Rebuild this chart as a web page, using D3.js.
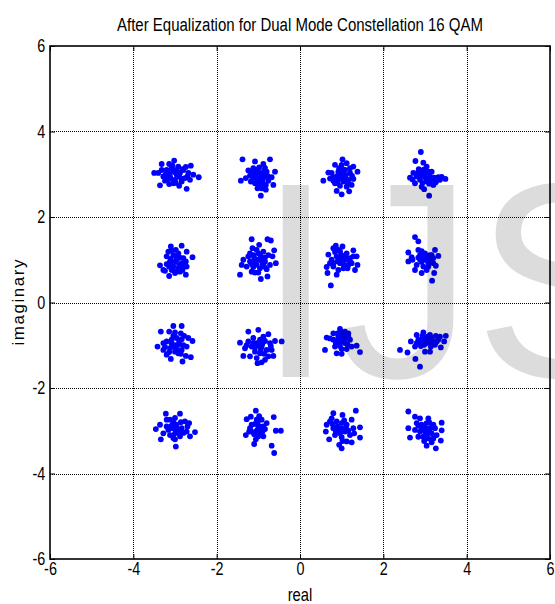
<!DOCTYPE html>
<html><head><meta charset="utf-8">
<script src="https://cdn.jsdelivr.net/npm/d3@7"></script>
<style>body{margin:0;background:#fff}</style>
</head><body>
<svg id="c" width="555" height="604"></svg>
<script>
const xTicks=[-6,-4,-2,0,2,4,6];
const yTicks=[-6,-4,-2,0,2,4,6];
const titleText="After Equalization for Dual Mode Constellation 16 QAM";
const xLabel="real", yLabel="imaginary", watermark="IJS";

// received symbols, one array per constellation point (real, imaginary)
const s_m3_p3=[[-3.50,3.03],[-3.32,3.24],[-3.14,3.24],[-3.02,3.32],[-2.62,3.20],[-2.43,2.93],[-2.72,2.66],[-2.90,2.73],[-3.36,2.74],[-3.14,2.77],[-3.04,2.79],[-3.28,2.95],[-3.40,3.03],[-3.20,3.10],[-3.08,3.14],[-2.92,3.18],[-2.80,3.10],[-2.68,3.03],[-2.56,2.99],[-2.76,2.91],[-2.96,2.99],[-3.04,3.06],[-3.12,2.95],[-3.24,2.85],[-2.84,2.83],[-2.64,2.87],[-3.00,2.87],[-3.16,3.03],[-2.88,3.03],[-3.32,3.10],[-2.74,3.17],[-2.96,3.10],[-3.10,2.90],[-2.90,2.95],[-3.00,3.05],[-2.85,2.90],[-3.18,2.88],[-2.70,2.95],[-3.06,3.20],[-2.98,2.80],[-3.22,3.00],[-2.82,3.12]];
const s_m1_p3=[[-1.38,3.35],[-1.08,3.30],[-0.72,3.35],[-0.88,3.24],[-1.24,3.09],[-0.60,3.06],[-1.42,2.85],[-1.30,2.91],[-0.68,2.93],[-0.64,2.75],[-0.82,2.64],[-0.94,2.50],[-1.02,2.67],[-1.16,3.03],[-1.04,3.10],[-0.96,3.03],[-0.80,3.06],[-1.12,2.91],[-1.00,2.87],[-0.88,2.91],[-0.76,2.85],[-0.92,2.79],[-1.08,2.79],[-1.20,2.97],[-0.98,3.16],[-1.12,3.14],[-0.84,3.15],[-1.18,2.83],[-0.82,2.75],[-0.92,2.67],[-1.06,2.98],[-0.90,2.98],[-1.02,2.85],[-0.86,3.08],[-1.10,3.05],[-0.95,2.92],[-1.14,2.96],[-0.78,2.96],[-1.00,2.75],[-0.90,2.82]];
const s_m3_p1=[[-3.10,1.31],[-2.84,1.33],[-2.58,1.06],[-2.72,1.19],[-3.36,0.87],[-3.28,0.76],[-3.14,0.62],[-3.00,0.69],[-2.74,0.65],[-2.72,0.84],[-3.20,1.08],[-3.04,1.11],[-2.92,1.15],[-2.80,1.04],[-3.12,0.96],[-2.96,1.00],[-2.84,0.92],[-3.04,0.84],[-3.20,0.90],[-2.92,0.80],[-2.82,0.76],[-3.24,0.74],[-3.08,0.76],[-2.74,0.96],[-2.98,1.23],[-3.16,1.19],[-2.88,0.72],[-3.00,0.95],[-2.90,0.88],[-3.10,1.02],[-2.88,1.05],[-3.06,0.90],[-2.96,1.08],[-3.14,0.84],[-2.80,0.84],[-2.98,0.72],[-3.08,1.22]];
const s_m1_p1=[[-1.16,1.48],[-0.78,1.48],[-0.70,1.45],[-0.98,1.35],[-0.62,1.22],[-1.14,1.27],[-1.36,1.00],[-1.40,0.88],[-1.44,0.65],[-1.08,0.70],[-0.94,0.55],[-0.78,0.61],[-0.58,0.92],[-0.66,1.08],[-1.24,1.08],[-1.12,1.11],[-1.00,1.15],[-0.88,1.19],[-0.76,1.11],[-1.20,0.96],[-1.08,0.96],[-0.96,1.00],[-0.84,0.96],[-0.72,0.88],[-1.28,0.84],[-1.12,0.83],[-0.96,0.80],[-0.80,0.78],[-1.04,1.23],[-0.88,1.00],[-1.16,0.72],[-1.00,1.00],[-0.90,0.90],[-1.10,1.05],[-0.94,1.08],[-1.04,0.88],[-0.84,1.05],[-1.16,0.90],[-0.86,0.84],[-1.20,1.15],[-1.00,0.70]];
const s_p1_p3=[[1.02,3.35],[0.84,3.22],[0.56,2.85],[0.68,3.04],[1.38,3.06],[1.28,3.18],[1.18,2.60],[1.00,2.53],[0.88,2.61],[0.80,2.93],[0.92,3.06],[1.08,3.10],[1.20,3.03],[1.28,2.89],[1.24,2.75],[1.12,2.71],[0.96,2.73],[0.84,2.79],[0.72,2.90],[0.96,2.89],[1.08,2.93],[1.04,2.83],[1.16,2.87],[1.00,3.22],[1.12,3.26],[0.88,2.87],[1.20,3.14],[0.76,3.03],[1.00,3.00],[0.90,2.96],[1.10,2.98],[1.04,3.10],[0.94,3.14],[1.15,2.80],[0.90,2.80],[1.02,2.92],[0.80,2.85],[1.25,2.96]];
const s_p3_p3=[[2.90,3.52],[2.77,3.31],[2.96,3.27],[3.04,3.18],[3.16,3.06],[2.64,2.92],[2.76,2.79],[2.98,2.65],[3.10,2.50],[3.20,2.75],[3.32,2.93],[3.49,2.89],[3.26,2.81],[2.84,3.06],[2.80,2.95],[2.92,3.03],[3.00,2.93],[3.12,2.95],[2.88,2.87],[3.04,2.83],[2.92,2.71],[3.16,2.87],[3.08,3.06],[2.72,3.03],[3.36,2.87],[2.96,3.10],[3.00,3.00],[2.88,2.96],[3.08,2.90],[2.94,2.80],[3.22,2.92],[2.85,3.12],[3.10,2.78],[3.00,3.12],[2.70,2.88],[3.40,2.94]];
const s_p1_p1=[[0.74,0.40],[0.86,1.33],[1.02,1.31],[1.28,1.22],[1.36,1.08],[1.38,0.88],[1.32,0.76],[0.64,0.83],[0.66,0.69],[0.88,0.65],[0.68,1.12],[0.80,1.27],[0.92,1.23],[0.76,1.00],[0.88,1.08],[1.00,1.11],[1.12,1.15],[1.20,1.04],[1.08,1.00],[0.96,0.92],[0.80,0.84],[1.16,0.88],[1.24,0.92],[1.04,0.80],[0.92,0.76],[0.72,0.92],[1.28,1.08],[1.00,1.00],[0.90,0.96],[1.10,1.06],[0.96,1.20],[1.06,0.88],[0.84,1.18],[1.20,0.96],[0.80,0.92],[1.14,0.80],[0.98,1.04]];
const s_p3_p1=[[2.76,1.53],[2.84,1.43],[2.84,1.23],[2.60,1.17],[2.60,0.96],[2.68,1.06],[2.76,0.76],[2.92,0.69],[3.22,0.69],[3.17,0.51],[3.26,0.86],[3.32,1.09],[3.24,1.23],[2.88,1.11],[3.00,1.15],[3.12,1.11],[3.20,1.04],[2.88,1.00],[3.00,1.00],[3.12,0.96],[2.80,0.88],[2.96,0.84],[3.08,0.84],[3.16,1.11],[3.04,1.07],[3.00,1.05],[2.92,0.95],[3.08,0.92],[2.96,1.10],[3.10,1.02],[2.84,1.05],[3.20,0.92],[2.70,1.00],[3.04,0.76],[2.92,1.20]];
const s_m3_m1=[[-3.34,-0.68],[-3.04,-0.55],[-2.84,-0.55],[-2.86,-0.72],[-3.14,-0.68],[-3.42,-1.03],[-2.58,-0.90],[-3.28,-1.11],[-3.20,-1.22],[-3.10,-1.32],[-2.82,-1.38],[-2.62,-1.28],[-2.74,-1.25],[-3.20,-0.91],[-3.08,-0.87],[-2.96,-0.83],[-2.84,-0.86],[-2.72,-1.03],[-3.04,-1.03],[-2.92,-0.99],[-2.84,-1.11],[-3.00,-1.15],[-3.12,-1.07],[-2.92,-1.19],[-3.28,-0.95],[-2.68,-0.83],[-3.04,-0.78],[-3.00,-1.00],[-2.90,-0.92],[-3.08,-0.96],[-2.96,-1.10],[-2.80,-1.00],[-3.14,-1.16],[-2.86,-1.20],[-3.24,-1.04],[-3.00,-0.70],[-2.78,-0.78]];
const s_m1_m1=[[-1.44,-0.94],[-1.24,-0.68],[-1.00,-0.64],[-0.76,-0.74],[-0.60,-0.90],[-0.44,-0.91],[-0.64,-1.25],[-0.84,-1.34],[-1.02,-1.42],[-0.92,-1.40],[-1.20,-1.26],[-1.36,-1.25],[-1.32,-1.07],[-1.12,-0.83],[-0.88,-0.80],[-0.72,-0.95],[-1.04,-0.95],[-1.16,-1.03],[-0.92,-1.03],[-0.80,-1.11],[-0.96,-1.19],[-1.08,-1.15],[-0.68,-1.11],[-1.24,-0.91],[-0.96,-0.87],[-0.76,-1.26],[-1.00,-1.00],[-0.90,-0.96],[-1.08,-1.06],[-0.94,-1.10],[-0.84,-0.90],[-1.12,-0.95],[-0.86,-1.20],[-1.04,-1.30],[-0.70,-1.02],[-1.28,-1.00]];
const s_m3_m3=[[-2.88,-2.60],[-3.22,-2.60],[-3.46,-2.96],[-3.36,-2.86],[-3.34,-3.20],[-2.98,-3.37],[-2.52,-3.03],[-2.66,-2.82],[-3.12,-2.74],[-3.00,-2.70],[-3.20,-2.90],[-3.08,-2.94],[-2.96,-2.86],[-2.84,-2.94],[-2.72,-3.02],[-3.00,-3.06],[-3.12,-3.10],[-2.88,-3.13],[-2.64,-3.13],[-3.28,-3.06],[-2.76,-2.78],[-3.04,-3.17],[-3.20,-2.74],[-3.00,-2.95],[-2.92,-2.98],[-3.08,-2.88],[-2.90,-3.05],[-3.04,-2.80],[-2.80,-3.05],[-3.16,-2.98],[-2.86,-2.80],[-3.00,-3.20],[-2.70,-2.90]];
const s_m1_m3=[[-1.06,-2.53],[-1.18,-2.67],[-1.28,-2.73],[-0.63,-2.68],[-1.30,-3.10],[-1.10,-3.31],[-0.96,-2.90],[-0.58,-3.00],[-0.46,-3.00],[-0.68,-3.35],[-0.62,-3.52],[-0.88,-3.13],[-1.04,-2.74],[-0.92,-2.74],[-1.16,-2.86],[-1.04,-3.00],[-1.16,-3.02],[-1.00,-3.13],[-0.88,-2.90],[-0.80,-2.82],[-1.20,-2.94],[-0.96,-3.06],[-1.00,-2.90],[-1.08,-2.84],[-0.96,-2.98],[-1.10,-3.08],[-0.90,-3.02],[-1.02,-2.80],[-1.22,-3.02],[-0.84,-2.96],[-1.06,-3.20],[-0.98,-2.66]];
const s_p1_m1=[[0.64,-0.82],[0.60,-1.11],[0.80,-0.72],[0.96,-0.62],[1.16,-0.72],[1.36,-1.01],[1.44,-1.16],[1.12,-1.09],[0.88,-1.19],[1.00,-1.20],[0.84,-1.03],[0.80,-0.87],[0.92,-0.80],[1.04,-0.83],[0.96,-0.95],[1.08,-0.95],[1.20,-0.87],[1.24,-1.03],[1.00,-1.09],[0.88,-0.91],[1.08,-0.68],[0.72,-0.84],[1.00,-0.90],[0.92,-0.86],[1.08,-0.85],[0.96,-1.02],[1.04,-0.76],[0.90,-0.72],[1.14,-0.98],[0.86,-0.95],[1.00,-0.70],[1.16,-0.80]];
const s_p3_m1=[[2.40,-1.11],[2.58,-1.17],[2.77,-1.32],[2.88,-1.50],[2.66,-0.91],[2.80,-0.76],[2.96,-0.70],[3.12,-0.76],[3.26,-0.78],[3.50,-0.78],[3.46,-0.91],[3.38,-1.05],[3.14,-1.03],[2.98,-0.99],[2.76,-1.03],[2.84,-0.87],[2.96,-0.83],[3.08,-0.87],[3.20,-0.91],[3.32,-0.87],[2.88,-0.95],[3.04,-0.95],[3.24,-0.99],[3.16,-0.83],[3.00,-1.15],[3.12,-1.15],[3.00,-0.88],[2.92,-0.90],[3.10,-0.92],[3.06,-0.80],[3.18,-0.96],[2.90,-1.02],[3.28,-0.92],[2.80,-0.95],[3.36,-0.80],[2.94,-0.78]];
const s_p1_m3=[[1.34,-2.53],[0.80,-2.59],[1.02,-2.63],[1.24,-2.74],[1.44,-2.92],[1.44,-3.16],[1.24,-3.27],[1.00,-3.41],[0.94,-3.33],[0.70,-3.20],[0.62,-3.02],[0.64,-2.86],[0.76,-2.71],[0.88,-2.78],[1.00,-2.82],[1.12,-2.86],[1.28,-2.94],[0.80,-2.94],[0.92,-2.98],[1.08,-3.02],[1.20,-3.10],[0.84,-3.10],[1.00,-3.15],[1.12,-3.25],[0.72,-2.78],[1.00,-2.95],[0.90,-2.90],[1.10,-2.92],[0.96,-3.06],[1.06,-2.76],[0.86,-3.02],[1.16,-3.00],[1.02,-3.24],[0.78,-2.84],[1.30,-3.06]];
const s_p3_m3=[[2.60,-2.55],[2.76,-2.67],[2.64,-3.16],[2.60,-2.94],[2.88,-2.71],[3.08,-2.71],[3.40,-2.81],[3.40,-2.99],[3.38,-3.23],[3.26,-3.41],[3.04,-3.35],[3.16,-3.27],[2.80,-2.82],[2.92,-2.86],[3.04,-2.82],[3.20,-2.86],[2.76,-2.98],[2.88,-3.02],[3.00,-3.02],[3.16,-3.06],[3.28,-3.10],[2.96,-3.14],[3.08,-3.18],[2.84,-3.14],[3.24,-2.94],[3.12,-2.94],[3.00,-2.92],[2.94,-2.96],[3.10,-3.00],[3.04,-3.10],[2.90,-2.90],[3.16,-2.92],[3.20,-3.18],[2.84,-2.88],[3.10,-2.80],[2.98,-3.24]];

const clusters=[s_m3_p3,s_m1_p3,s_p1_p3,s_p3_p3,s_m3_p1,s_m1_p1,s_p1_p1,s_p3_p1,
                s_m3_m1,s_m1_m1,s_p1_m1,s_p3_m1,s_m3_m3,s_m1_m3,s_p1_m3,s_p3_m3];
const points=clusters.flat();

const FONT='"Liberation Sans",Arial,Helvetica,sans-serif';
const NARROW="scale(0.8,1)";
const svg=d3.select("#c");
const P={l:50,r:550,t:46,b:559};
const x=d3.scaleLinear().domain([-6,6]).range([P.l,P.r]);
const y=d3.scaleLinear().domain([-6,6]).range([P.b,P.t]);

svg.append("rect").attr("width",555).attr("height",604).attr("fill","#fff");

// dotted grid
const grid=svg.append("g").attr("stroke","#000").attr("stroke-width",1).attr("stroke-dasharray","1,1");
grid.selectAll(".gv").data(xTicks.slice(1,-1)).join("line")
  .attr("x1",d=>Math.round(x(d))+0.5).attr("x2",d=>Math.round(x(d))+0.5)
  .attr("y1",P.t).attr("y2",P.b);
grid.selectAll(".gh").data(yTicks.slice(1,-1)).join("line")
  .attr("y1",d=>Math.round(y(d))+0.5).attr("y2",d=>Math.round(y(d))+0.5)
  .attr("x1",P.l).attr("x2",P.r);

// axes with inward ticks
const fmt=d=>String(d);
function styleAxis(g){
  g.select(".domain").remove();
  g.selectAll(".tick line").attr("stroke","#000").attr("stroke-width",1);
  g.selectAll(".tick text").attr("fill","#000").attr("transform",NARROW)
    .style("font-family",FONT).style("font-size","18px");
}
svg.append("g").attr("transform",`translate(0,${P.b})`)
  .call(d3.axisBottom(x).tickValues(xTicks).tickSizeInner(-5).tickSizeOuter(0).tickPadding(3).tickFormat(fmt))
  .call(styleAxis);
svg.append("g").attr("transform",`translate(0,${P.t})`)
  .call(d3.axisTop(x).tickValues(xTicks).tickSizeInner(-5).tickSizeOuter(0).tickFormat(""))
  .call(styleAxis);
svg.append("g").attr("transform",`translate(${P.l},0)`)
  .call(d3.axisLeft(y).tickValues(yTicks).tickSizeInner(-5).tickSizeOuter(0).tickPadding(6).tickFormat(fmt))
  .call(styleAxis);
svg.append("g").attr("transform",`translate(${P.r},0)`)
  .call(d3.axisRight(y).tickValues(yTicks).tickSizeInner(-5).tickSizeOuter(0).tickFormat(""))
  .call(styleAxis);

// frame
svg.append("rect").attr("x",P.l).attr("y",P.t).attr("width",P.r-P.l).attr("height",P.b-P.t)
  .attr("fill","none").attr("stroke","#000").attr("stroke-width",1.6);

// points
svg.append("g").selectAll("circle").data(points).join("circle")
  .attr("cx",d=>x(d[0])).attr("cy",d=>y(d[1])).attr("r",2.9).attr("fill","#0000ff");

// titles
svg.append("text").attr("x",300).attr("y",31).attr("text-anchor","middle")
  .attr("textLength",366).attr("lengthAdjust","spacingAndGlyphs")
  .style("font-family",FONT).style("font-size","18px").text(titleText);
svg.append("text").attr("transform","translate(300,601) scale(0.82,1)").attr("text-anchor","middle")
  .style("font-family",FONT).style("font-size","18px").text(xLabel);
svg.append("text").attr("transform",`translate(24,${(P.t+P.b)/2}) rotate(-90)`).attr("text-anchor","middle")
  .attr("textLength",86).attr("lengthAdjust","spacing")
  .style("font-family",FONT).style("font-size","17px").text(yLabel);

// watermark overlay
svg.append("text").attr("x",257).attr("y",377)
  .style("font-family",FONT).style("font-size","279px")
  .attr("fill","#000").attr("fill-opacity",0.137).text(watermark);
</script>
</body></html>
